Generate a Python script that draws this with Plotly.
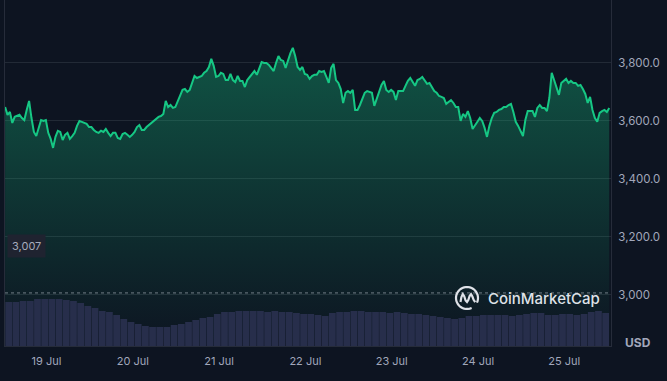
import math
import pandas as pd
import plotly.graph_objects as go

# ---------------- data ----------------
price_start = "2024-07-18 12:30"
price_step = "40min"
prices = [
    3648, 3621, 3631, 3593, 3614, 3617, 3621, 3610, 3603, 3638,
    3669, 3610, 3562, 3548, 3579, 3603, 3600, 3603, 3559, 3538,
    3507, 3545, 3566, 3562, 3534, 3552, 3559, 3538, 3548, 3559,
    3583, 3600, 3597, 3593, 3590, 3579, 3579, 3569, 3562, 3559,
    3566, 3562, 3572, 3559, 3548, 3559, 3559, 3541, 3538, 3555,
    3559, 3552, 3545, 3552, 3562, 3579, 3586, 3569, 3569, 3579,
    3586, 3593, 3600, 3610, 3614, 3617, 3624, 3669, 3648, 3655,
    3645, 3648, 3666, 3683, 3707, 3710, 3700, 3707, 3731, 3755,
    3748, 3752, 3755, 3766, 3772, 3786, 3814, 3790, 3752, 3755,
    3766, 3762, 3741, 3741, 3762, 3741, 3734, 3755, 3738, 3738,
    3717, 3741, 3752, 3762, 3772, 3759, 3783, 3803, 3800, 3800,
    3793, 3783, 3772, 3800, 3824, 3810, 3807, 3783, 3810, 3834,
    3852, 3824, 3786, 3776, 3786, 3762, 3759, 3745, 3755, 3759,
    3759, 3772, 3769, 3772, 3752, 3731, 3783, 3797, 3741, 3731,
    3710, 3662, 3697, 3703, 3697, 3707, 3638, 3638, 3655, 3679,
    3697, 3703, 3700, 3697, 3652, 3676, 3707, 3724, 3738, 3707,
    3700, 3707, 3700, 3672, 3703, 3703, 3703, 3721, 3738, 3748,
    3734, 3721, 3741, 3745, 3752, 3741, 3728, 3731, 3717, 3703,
    3697, 3686, 3683, 3679, 3659, 3666, 3672, 3662, 3648, 3648,
    3600, 3624, 3614, 3634, 3610, 3572, 3583, 3597, 3610, 3600,
    3576, 3545, 3583, 3610, 3628, 3631, 3638, 3641, 3648, 3648,
    3655, 3659, 3631, 3597, 3583, 3566, 3548, 3603, 3634, 3634,
    3634, 3614, 3645, 3655, 3645, 3645, 3634, 3679, 3766, 3741,
    3714, 3690, 3731, 3738, 3745, 3731, 3738, 3731, 3731, 3721,
    3724, 3710, 3693, 3662, 3683, 3638, 3610, 3597, 3628, 3634,
    3638, 3631, 3645,
]

volume_start = "2024-07-18 13:30"
volume_step = "2h"
volumes_bn = [
    17.6, 17.6, 18.0, 18.0, 18.8, 18.8, 18.8, 18.8, 18.4, 18.0,
    17.2, 16.0, 15.2, 14.0, 13.6, 12.4, 10.8, 9.6, 8.8, 8.0,
    7.6, 7.6, 7.6, 8.4, 8.8, 9.6, 10.4, 11.2, 11.6, 12.8,
    13.6, 13.6, 14.0, 14.0, 14.0, 14.0, 13.6, 14.0, 13.6, 13.6,
    13.2, 12.8, 12.8, 12.4, 12.0, 13.2, 13.6, 13.6, 14.0, 14.0,
    13.6, 13.6, 13.6, 13.2, 13.6, 13.2, 12.8, 12.8, 12.4, 12.0,
    11.6, 11.2, 10.8, 11.2, 12.0, 12.0, 12.4, 12.4, 12.4, 12.4,
    12.0, 12.4, 12.8, 13.2, 13.2, 12.4, 12.4, 12.8, 12.8, 12.4,
    12.8, 13.6, 14.0, 13.2,
]

y_tickvals = [3000, 3200, 3400, 3600, 3800]
y_ticktext = ["3,000", "3,200.0", "3,400.0", "3,600.0", "3,800.0"]
low_price = 3007
low_label = "3,007"

# ---------------- figure ----------------
price_times = pd.date_range(price_start, periods=len(prices), freq=price_step)
vol_times = pd.date_range(volume_start, periods=len(volumes_bn), freq=volume_step)

BG = "#0d1421"
GREEN = "#16c784"
TICK = "#a1a7bb"
FONT = "Inter"

fig = go.Figure()

fig.add_trace(go.Scatter(
    x=price_times, y=prices, mode="lines",
    line=dict(color=GREEN, width=2),
    fill="tozeroy",
    fillgradient=dict(
        type="vertical", start=2824, stop=3852,
        colorscale=[[0, "rgba(22,199,132,0.0)"], [1, "rgba(22,199,132,0.36)"]],
    ),
    hoverinfo="skip", showlegend=False,
))

fig.add_trace(go.Bar(
    x=vol_times, y=volumes_bn, yaxis="y2",
    width=2 * 3600 * 1000 * 0.94,
    marker=dict(color="#272e4b", line=dict(width=0)),
    hoverinfo="skip", showlegend=False,
))

fig.update_layout(
    width=667, height=381,
    margin=dict(l=5, r=56, t=0, b=35),
    paper_bgcolor=BG, plot_bgcolor=BG,
    font=dict(family=FONT, color=TICK, size=11),
    xaxis=dict(
        range=["2024-07-18 12:28", "2024-07-25 12:59"],
        tick0="2024-07-19", dtick=86400000, tickformat="%d %b",
        showgrid=False, zeroline=False,
        showline=True, linecolor="#262c3a", linewidth=1,
        ticks="outside", ticklen=5, tickcolor="rgba(0,0,0,0)",
        tickfont=dict(size=11, color=TICK),
    ),
    yaxis=dict(
        side="right", range=[2824, 4017],
        tickvals=y_tickvals, ticktext=y_ticktext,
        showgrid=True, gridcolor="#222a36", gridwidth=1,
        zeroline=False, showline=True, mirror=True,
        linecolor="#262c3a", linewidth=1,
        ticks="outside", ticklen=4, tickcolor="rgba(0,0,0,0)",
        tickfont=dict(size=11.5, color=TICK),
    ),
    yaxis2=dict(
        overlaying="y", range=[0, 138.4], visible=False,
    ),
)

# dotted line at the period low
fig.add_shape(type="line", xref="paper", x0=0, x1=1, yref="y", y0=low_price, y1=low_price,
              line=dict(color="rgba(200,205,215,0.55)", width=1, dash="dot"))

# low label box
fig.add_annotation(xref="paper", yref="paper", x=(26 - 5) / 606, y=1 - 246 / 346,
                   text=low_label, showarrow=False, xanchor="center", yanchor="middle",
                   bgcolor="#1f2330", borderpad=4,
                   font=dict(size=11, color="#a6acbb", family=FONT))

# USD unit label
fig.add_annotation(xref="paper", yref="paper", x=1.019, y=0.01, xanchor="left", yanchor="middle",
                   text="<b>USD</b>", showarrow=False, font=dict(size=12, color=TICK, family=FONT))

# CoinMarketCap watermark
lx, ly = (467 - 5) / 606, 1 - 298 / 346
r = 11
pts = []
for i in range(0, 33):
    a = math.radians(-25 + i * 10)
    pts.append((r * math.cos(a), r * math.sin(a)))
circle_path = "M" + " L".join(f"{px:.2f},{py:.2f}" for px, py in pts)
fig.add_shape(type="path", xref="paper", yref="paper", xsizemode="pixel", ysizemode="pixel",
              xanchor=lx, yanchor=ly, path=circle_path,
              line=dict(color="#dfe2e8", width=2.2))
m_pts = [(-6.5, -4), (-5.6, 1), (-4.2, 3.8), (-2.8, 1.8), (-1.4, -2.5), (0, -4), (1.3, -2), (2.6, 2),
         (4, 3.8), (5.4, 1.5), (6.6, -1.8), (8.2, -4.2)]
m_path = "M" + " L".join(f"{px:.2f},{py:.2f}" for px, py in m_pts)
fig.add_shape(type="path", xref="paper", yref="paper", xsizemode="pixel", ysizemode="pixel",
              xanchor=lx, yanchor=ly, path=m_path,
              line=dict(color="#dfe2e8", width=2.2))
fig.add_annotation(xref="paper", yref="paper", x=(486 - 5) / 606, y=ly, xanchor="left", yanchor="middle",
                   text="CoinMarketCap", showarrow=False,
                   font=dict(size=15, color="#dfe2e8", family=FONT, weight=500))

fig.write_html(
    "out.html",
    config={"displayModeBar": False},
    post_script=f"document.body.style.margin='0';document.body.style.background='{BG}';",
)
